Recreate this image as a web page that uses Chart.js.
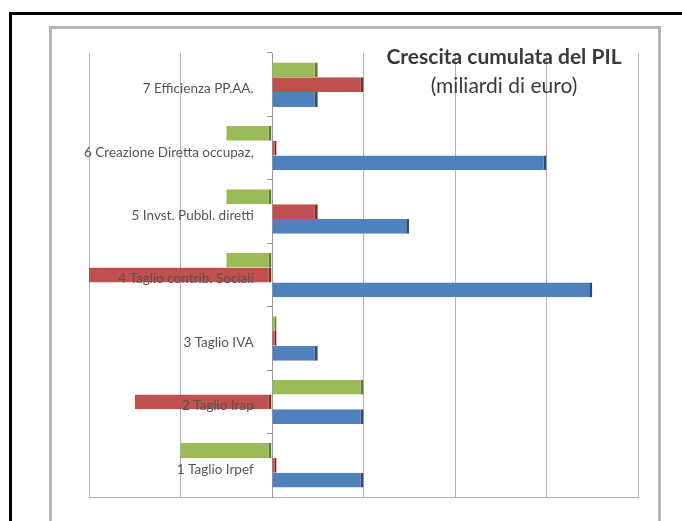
<!DOCTYPE html>
<html>
<head>
<meta charset="utf-8">
<script src="https://cdn.jsdelivr.net/npm/chart.js@4.4.0/dist/chart.umd.min.js"></script>
<style>
html, body { margin: 0; padding: 0; background: #fff; }
#wrap { position: relative; width: 682px; height: 521px; overflow: hidden; }
#outer { position: absolute; left: 9px; top: 12px; width: 700px; height: 540px; border: 3px solid #000; box-sizing: border-box; }
#inner { position: absolute; left: 49px; top: 26px; width: 612px; height: 540px; border: 3px solid #b4b4b4; box-sizing: border-box; }
#title { position: absolute; left: 374px; width: 260px; top: 41px; text-align: center; font-family: Lato, sans-serif; color: #3a3a3a; font-size: 21px; line-height: 29px; }
#title b { font-weight: bold; }
canvas { position: absolute; left: 0; top: 0; }
</style>
</head>
<body>
<div id="wrap">
  <div id="outer"></div>
  <div id="inner"></div>
  <canvas id="myChart" width="682" height="521"></canvas>
  <div id="title"><b>Crescita cumulata del PIL</b><br>(miliardi di euro)</div>
</div>
<script>
// categorie dall'alto verso il basso
var categorie = ['7 Efficienza PP.AA.', '6 Creazione Diretta occupaz,', '5 Invst. Pubbl. diretti',
    '4 Taglio contrib. Sociali', '3 Taglio IVA', '2 Taglio Irap', '1 Taglio Irpef'];
var verde = [0.5, -0.5, -0.5, -0.5, 0.05, 1.0, -1.0];
var rosso = [1.0, 0.05, 0.5, -2.0, 0.05, -1.5, 0.05];
var blu = [0.5, 3.0, 1.5, 3.5, 0.5, 1.0, 1.0];
var xMin = -2, xMax = 4, xStep = 1;

const ctx = document.getElementById('myChart').getContext('2d');

var bordo = { top: 0, right: 3, bottom: 0, left: 0 };

var graphData = {
    type: 'bar',
    data: {
        labels: categorie,
        datasets: [
            { data: verde, backgroundColor: '#9bbb59', borderColor: '#667d36', borderWidth: bordo, borderSkipped: false },
            { data: rosso, backgroundColor: '#c0504d', borderColor: '#7a2c2a', borderWidth: bordo, borderSkipped: false },
            { data: blu, backgroundColor: '#4f81bd', borderColor: '#2c4d75', borderWidth: bordo, borderSkipped: false }
        ]
    },
    options: {
        indexAxis: 'y',
        responsive: false,
        animation: false,
        categoryPercentage: 0.7,
        barPercentage: 1.0,
        layout: { padding: { left: 89, right: 44, top: 53, bottom: 24 } },
        plugins: { legend: { display: false }, tooltip: { enabled: false } },
        scales: {
            x: {
                min: xMin, max: xMax,
                ticks: { stepSize: xStep, display: false },
                grid: { color: '#b3b3b3', drawTicks: false },
                border: { color: '#b3b3b3' }
            },
            // etichette, un po' a sinistra dello zero
            y: {
                position: { x: -0.2 },
                grid: { display: false },
                border: { display: false },
                ticks: { color: '#555', font: { family: 'Lato', size: 13.5 }, labelOffset: 4, z: 1 }
            },
            // asse dello zero con le tacche
            y2: {
                type: 'category',
                labels: categorie,
                position: { x: 0 },
                grid: { drawOnChartArea: false, tickLength: 5, color: '#999', offset: true },
                border: { color: '#999' },
                ticks: { display: false }
            }
        }
    }
};
var myChart = new Chart(ctx, graphData);
</script>
</body>
</html>
